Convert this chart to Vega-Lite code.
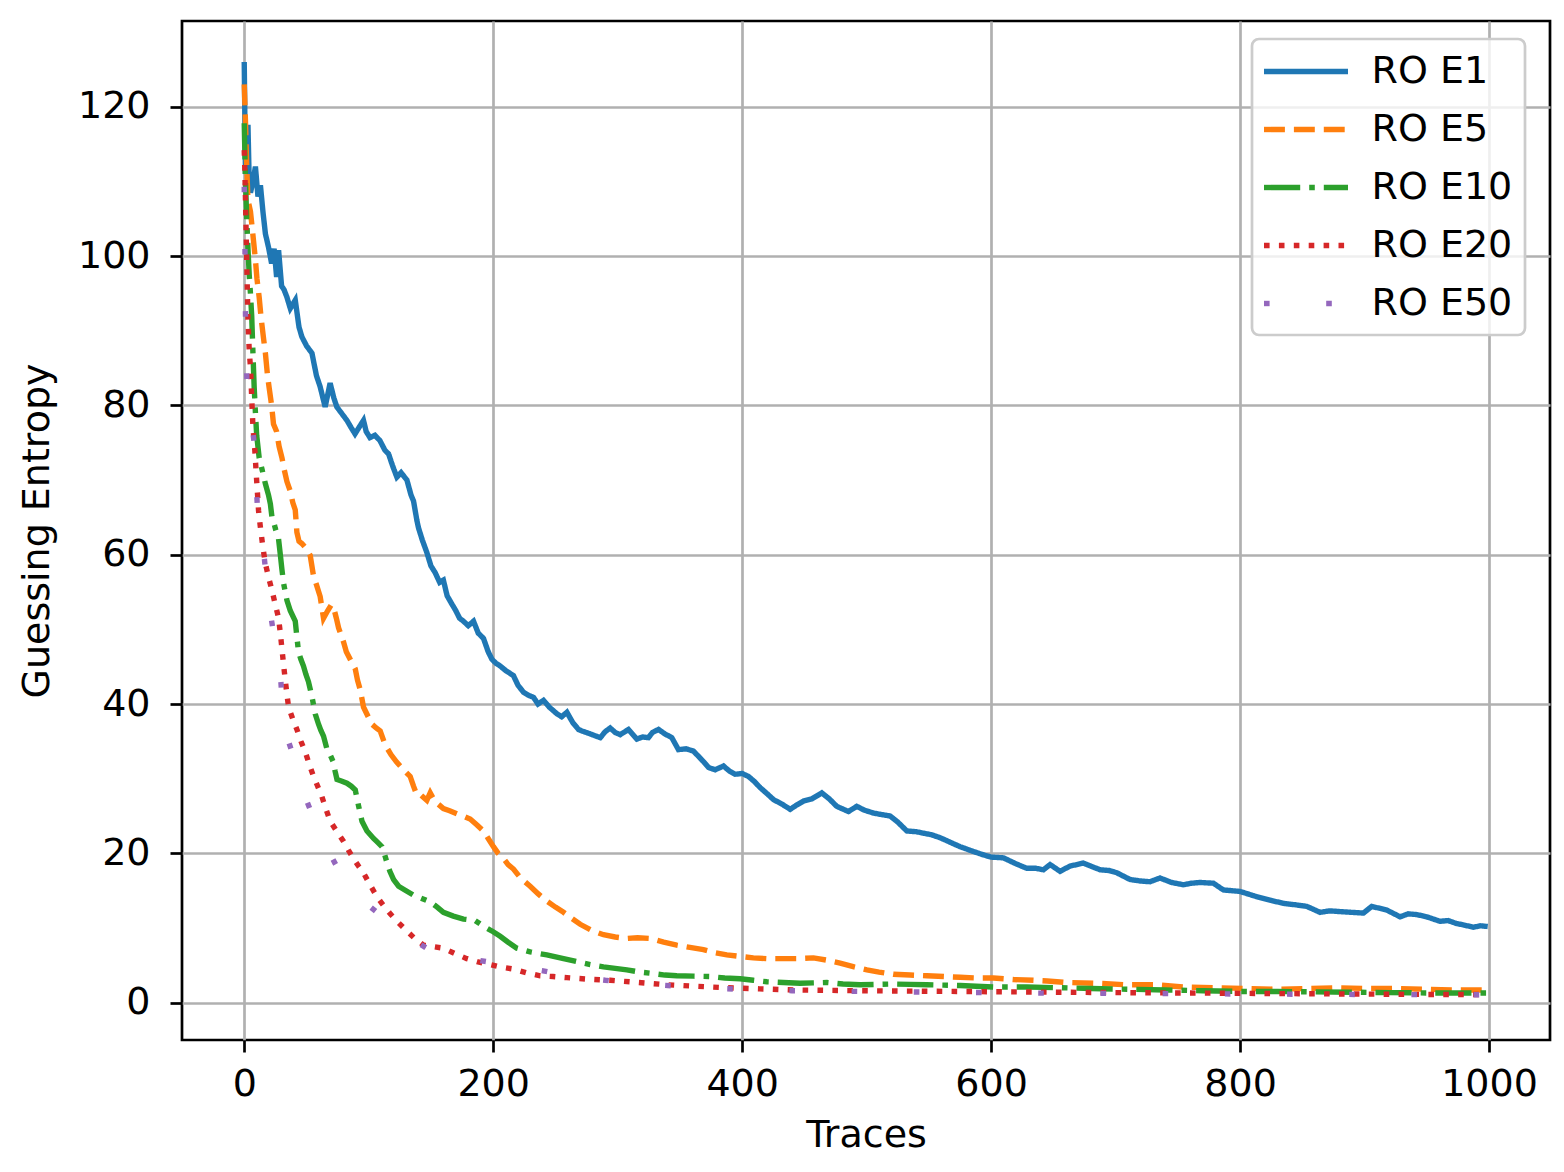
{
  "$schema": "https://vega.github.io/schema/vega-lite/v6.json",
  "width": 1368,
  "height": 1019,
  "autosize": {"type": "none"},
  "padding": {"left": 182, "top": 21, "right": 14, "bottom": 132},
  "background": "white",
  "config": {
    "font": "DejaVu Sans",
    "view": {"stroke": "black", "strokeWidth": 2.7},
    "axis": {
      "domain": false,
      "grid": true,
      "gridColor": "#b0b0b0",
      "gridWidth": 2.7,
      "tickColor": "black",
      "tickWidth": 2.7,
      "tickSize": 12,
      "labelFont": "DejaVu Sans",
      "labelFontSize": 38,
      "labelColor": "black",
      "titleFont": "DejaVu Sans",
      "titleFontSize": 38,
      "titleFontWeight": "normal",
      "titleColor": "black"
    },
    "legend": {
      "orient": "none",
      "legendX": 1070,
      "legendY": 18,
      "padding": 12,
      "fillColor": "rgba(255,255,255,0.8)",
      "strokeColor": "#cccccc",
      "strokeWidth": 2.7,
      "cornerRadius": 7,
      "symbolType": "M-2.4,0H2.4",
      "symbolSize": 1225,
      "symbolStrokeWidth": 5.4,
      "symbolOffset": 21.5,
      "labelOffset": 45,
      "labelFont": "DejaVu Sans",
      "labelFontSize": 38,
      "labelColor": "black",
      "labelLimit": 400,
      "rowPadding": 18
    }
  },
  "data": {
    "values": [
      {"series":"RO E1","trace":0,"ge":126},{"series":"RO E1","trace":1,"ge":111},{"series":"RO E1","trace":2,"ge":114},{"series":"RO E1","trace":3,"ge":117.6},{"series":"RO E1","trace":4,"ge":110},{"series":"RO E1","trace":5,"ge":108.5},{"series":"RO E1","trace":7,"ge":110},{"series":"RO E1","trace":9,"ge":112},{"series":"RO E1","trace":11,"ge":108},{"series":"RO E1","trace":13,"ge":109.5},{"series":"RO E1","trace":15,"ge":106},{"series":"RO E1","trace":17,"ge":103},{"series":"RO E1","trace":19.5,"ge":101.2},{"series":"RO E1","trace":22,"ge":99},{"series":"RO E1","trace":24,"ge":101},{"series":"RO E1","trace":26,"ge":97.2},{"series":"RO E1","trace":27.6,"ge":100.8},{"series":"RO E1","trace":30,"ge":96},{"series":"RO E1","trace":32,"ge":95.5},{"series":"RO E1","trace":34.3,"ge":94.5},{"series":"RO E1","trace":37,"ge":93},{"series":"RO E1","trace":41,"ge":94.1},{"series":"RO E1","trace":44,"ge":90.5},{"series":"RO E1","trace":46.3,"ge":89.2},{"series":"RO E1","trace":50,"ge":88},{"series":"RO E1","trace":54.4,"ge":87},{"series":"RO E1","trace":58,"ge":84},{"series":"RO E1","trace":61,"ge":82.5},{"series":"RO E1","trace":65,"ge":79.8},{"series":"RO E1","trace":69,"ge":83},{"series":"RO E1","trace":72,"ge":81},{"series":"RO E1","trace":74.4,"ge":79.8},{"series":"RO E1","trace":78,"ge":79},{"series":"RO E1","trace":82.5,"ge":78},{"series":"RO E1","trace":86,"ge":77},{"series":"RO E1","trace":89,"ge":76.2},{"series":"RO E1","trace":92,"ge":77},{"series":"RO E1","trace":95.8,"ge":78},{"series":"RO E1","trace":98,"ge":76.5},{"series":"RO E1","trace":101,"ge":75.7},{"series":"RO E1","trace":105,"ge":76},{"series":"RO E1","trace":109,"ge":75.3},{"series":"RO E1","trace":113,"ge":74},{"series":"RO E1","trace":116,"ge":73.5},{"series":"RO E1","trace":119,"ge":72},{"series":"RO E1","trace":122.6,"ge":70.4},{"series":"RO E1","trace":126,"ge":71},{"series":"RO E1","trace":130.7,"ge":70},{"series":"RO E1","trace":134,"ge":68},{"series":"RO E1","trace":136,"ge":67.2},{"series":"RO E1","trace":138.7,"ge":64.6},{"series":"RO E1","trace":140,"ge":63.6},{"series":"RO E1","trace":143,"ge":62},{"series":"RO E1","trace":146.7,"ge":60.3},{"series":"RO E1","trace":150,"ge":58.5},{"series":"RO E1","trace":153.4,"ge":57.6},{"series":"RO E1","trace":157,"ge":56.3},{"series":"RO E1","trace":160,"ge":56.6},{"series":"RO E1","trace":163,"ge":54.5},{"series":"RO E1","trace":166.8,"ge":53.4},{"series":"RO E1","trace":170,"ge":52.5},{"series":"RO E1","trace":173,"ge":51.5},{"series":"RO E1","trace":176.1,"ge":51.1},{"series":"RO E1","trace":180,"ge":50.5},{"series":"RO E1","trace":184.2,"ge":51.1},{"series":"RO E1","trace":188,"ge":49.5},{"series":"RO E1","trace":192.2,"ge":48.8},{"series":"RO E1","trace":196,"ge":47},{"series":"RO E1","trace":199,"ge":46},{"series":"RO E1","trace":202,"ge":45.5},{"series":"RO E1","trace":205.6,"ge":45.1},{"series":"RO E1","trace":210,"ge":44.5},{"series":"RO E1","trace":216.3,"ge":43.8},{"series":"RO E1","trace":220,"ge":42.5},{"series":"RO E1","trace":224.3,"ge":41.6},{"series":"RO E1","trace":228,"ge":41.2},{"series":"RO E1","trace":232.4,"ge":40.9},{"series":"RO E1","trace":236,"ge":40},{"series":"RO E1","trace":240.4,"ge":40.5},{"series":"RO E1","trace":245,"ge":39.6},{"series":"RO E1","trace":251.2,"ge":38.7},{"series":"RO E1","trace":255,"ge":38.3},{"series":"RO E1","trace":259.2,"ge":38.9},{"series":"RO E1","trace":264,"ge":37.5},{"series":"RO E1","trace":268.5,"ge":36.6},{"series":"RO E1","trace":271.2,"ge":36.4},{"series":"RO E1","trace":278,"ge":36},{"series":"RO E1","trace":286,"ge":35.5},{"series":"RO E1","trace":290,"ge":36.3},{"series":"RO E1","trace":294,"ge":36.8},{"series":"RO E1","trace":298,"ge":36.2},{"series":"RO E1","trace":302,"ge":35.9},{"series":"RO E1","trace":308.7,"ge":36.6},{"series":"RO E1","trace":315.4,"ge":35.3},{"series":"RO E1","trace":320,"ge":35.6},{"series":"RO E1","trace":324.7,"ge":35.5},{"series":"RO E1","trace":328,"ge":36.2},{"series":"RO E1","trace":332.8,"ge":36.6},{"series":"RO E1","trace":338,"ge":36},{"series":"RO E1","trace":343.5,"ge":35.5},{"series":"RO E1","trace":348.8,"ge":33.9},{"series":"RO E1","trace":355,"ge":34},{"series":"RO E1","trace":360.9,"ge":33.7},{"series":"RO E1","trace":368.9,"ge":32.3},{"series":"RO E1","trace":373,"ge":31.5},{"series":"RO E1","trace":378.3,"ge":31.2},{"series":"RO E1","trace":385,"ge":31.7},{"series":"RO E1","trace":390,"ge":31},{"series":"RO E1","trace":394.4,"ge":30.6},{"series":"RO E1","trace":400,"ge":30.7},{"series":"RO E1","trace":405.1,"ge":30.3},{"series":"RO E1","trace":410,"ge":29.6},{"series":"RO E1","trace":414.5,"ge":28.8},{"series":"RO E1","trace":420,"ge":28},{"series":"RO E1","trace":425.2,"ge":27.2},{"series":"RO E1","trace":432,"ge":26.6},{"series":"RO E1","trace":438.6,"ge":25.9},{"series":"RO E1","trace":444,"ge":26.5},{"series":"RO E1","trace":449.2,"ge":27},{"series":"RO E1","trace":456,"ge":27.3},{"series":"RO E1","trace":464,"ge":28.1},{"series":"RO E1","trace":470,"ge":27.3},{"series":"RO E1","trace":476,"ge":26.3},{"series":"RO E1","trace":485.4,"ge":25.6},{"series":"RO E1","trace":492.1,"ge":26.3},{"series":"RO E1","trace":498,"ge":25.8},{"series":"RO E1","trace":505.5,"ge":25.4},{"series":"RO E1","trace":512,"ge":25.2},{"series":"RO E1","trace":518.9,"ge":25},{"series":"RO E1","trace":525,"ge":24.2},{"series":"RO E1","trace":532.3,"ge":23},{"series":"RO E1","trace":540,"ge":22.9},{"series":"RO E1","trace":545.6,"ge":22.7},{"series":"RO E1","trace":552,"ge":22.5},{"series":"RO E1","trace":559,"ge":22.1},{"series":"RO E1","trace":567,"ge":21.5},{"series":"RO E1","trace":575,"ge":20.9},{"series":"RO E1","trace":585,"ge":20.3},{"series":"RO E1","trace":593.8,"ge":19.8},{"series":"RO E1","trace":600,"ge":19.5},{"series":"RO E1","trace":609.9,"ge":19.4},{"series":"RO E1","trace":620,"ge":18.6},{"series":"RO E1","trace":628.7,"ge":18},{"series":"RO E1","trace":636,"ge":18},{"series":"RO E1","trace":642,"ge":17.8},{"series":"RO E1","trace":647.4,"ge":18.5},{"series":"RO E1","trace":655.4,"ge":17.6},{"series":"RO E1","trace":663.5,"ge":18.3},{"series":"RO E1","trace":674.1,"ge":18.7},{"series":"RO E1","trace":680,"ge":18.3},{"series":"RO E1","trace":687.6,"ge":17.8},{"series":"RO E1","trace":695,"ge":17.7},{"series":"RO E1","trace":701,"ge":17.4},{"series":"RO E1","trace":711.6,"ge":16.5},{"series":"RO E1","trace":720,"ge":16.3},{"series":"RO E1","trace":727.7,"ge":16.2},{"series":"RO E1","trace":735.7,"ge":16.7},{"series":"RO E1","trace":745,"ge":16.1},{"series":"RO E1","trace":754.5,"ge":15.8},{"series":"RO E1","trace":761,"ge":16},{"series":"RO E1","trace":767.9,"ge":16.1},{"series":"RO E1","trace":778.6,"ge":16},{"series":"RO E1","trace":786.6,"ge":15.1},{"series":"RO E1","trace":800,"ge":14.9},{"series":"RO E1","trace":813.4,"ge":14.2},{"series":"RO E1","trace":825,"ge":13.7},{"series":"RO E1","trace":834.8,"ge":13.3},{"series":"RO E1","trace":845,"ge":13.1},{"series":"RO E1","trace":853.6,"ge":12.9},{"series":"RO E1","trace":864.3,"ge":12.1},{"series":"RO E1","trace":872,"ge":12.3},{"series":"RO E1","trace":880.3,"ge":12.2},{"series":"RO E1","trace":890,"ge":12.1},{"series":"RO E1","trace":899.1,"ge":12},{"series":"RO E1","trace":905.8,"ge":12.9},{"series":"RO E1","trace":917.9,"ge":12.4},{"series":"RO E1","trace":928.6,"ge":11.5},{"series":"RO E1","trace":935,"ge":11.9},{"series":"RO E1","trace":942,"ge":11.8},{"series":"RO E1","trace":950,"ge":11.5},{"series":"RO E1","trace":960.6,"ge":10.9},{"series":"RO E1","trace":967,"ge":11},{"series":"RO E1","trace":974,"ge":10.6},{"series":"RO E1","trace":980,"ge":10.4},{"series":"RO E1","trace":987.4,"ge":10.1},{"series":"RO E1","trace":993,"ge":10.3},{"series":"RO E1","trace":999,"ge":10.2},
      {"series":"RO E5","trace":0,"ge":123},{"series":"RO E5","trace":1,"ge":118},{"series":"RO E5","trace":2,"ge":112},{"series":"RO E5","trace":3,"ge":107.5},{"series":"RO E5","trace":5,"ge":106},{"series":"RO E5","trace":7.5,"ge":102},{"series":"RO E5","trace":9,"ge":99.5},{"series":"RO E5","trace":10.2,"ge":97},{"series":"RO E5","trace":12,"ge":94.5},{"series":"RO E5","trace":13.5,"ge":91.8},{"series":"RO E5","trace":15.5,"ge":89},{"series":"RO E5","trace":17,"ge":87},{"series":"RO E5","trace":18.7,"ge":84},{"series":"RO E5","trace":20,"ge":82.4},{"series":"RO E5","trace":22,"ge":80},{"series":"RO E5","trace":23.5,"ge":77.5},{"series":"RO E5","trace":26,"ge":76.5},{"series":"RO E5","trace":28,"ge":74.5},{"series":"RO E5","trace":30.3,"ge":73},{"series":"RO E5","trace":32,"ge":71.5},{"series":"RO E5","trace":34.3,"ge":69.8},{"series":"RO E5","trace":37,"ge":68.5},{"series":"RO E5","trace":39,"ge":67},{"series":"RO E5","trace":41,"ge":66},{"series":"RO E5","trace":42.3,"ge":63},{"series":"RO E5","trace":44,"ge":61.8},{"series":"RO E5","trace":46.3,"ge":61.5},{"series":"RO E5","trace":50,"ge":60.8},{"series":"RO E5","trace":53,"ge":59.9},{"series":"RO E5","trace":55.7,"ge":57.1},{"series":"RO E5","trace":58,"ge":56},{"series":"RO E5","trace":61,"ge":54.4},{"series":"RO E5","trace":63.7,"ge":51.5},{"series":"RO E5","trace":67,"ge":52.5},{"series":"RO E5","trace":70,"ge":53.3},{"series":"RO E5","trace":71.7,"ge":53},{"series":"RO E5","trace":74,"ge":51.5},{"series":"RO E5","trace":75.8,"ge":50.2},{"series":"RO E5","trace":79.8,"ge":48.3},{"series":"RO E5","trace":82,"ge":47},{"series":"RO E5","trace":85.1,"ge":46},{"series":"RO E5","trace":89.2,"ge":44.7},{"series":"RO E5","trace":91,"ge":43.2},{"series":"RO E5","trace":93.2,"ge":41.9},{"series":"RO E5","trace":95.8,"ge":39.6},{"series":"RO E5","trace":99,"ge":38.5},{"series":"RO E5","trace":102.6,"ge":37.3},{"series":"RO E5","trace":106,"ge":36.8},{"series":"RO E5","trace":109.2,"ge":36.4},{"series":"RO E5","trace":113.3,"ge":34.5},{"series":"RO E5","trace":118,"ge":33.2},{"series":"RO E5","trace":122.6,"ge":32.2},{"series":"RO E5","trace":128,"ge":31.2},{"series":"RO E5","trace":133.3,"ge":30.3},{"series":"RO E5","trace":136,"ge":29},{"series":"RO E5","trace":138.7,"ge":27.8},{"series":"RO E5","trace":142,"ge":27.8},{"series":"RO E5","trace":146.7,"ge":27.1},{"series":"RO E5","trace":149.4,"ge":28.1},{"series":"RO E5","trace":153,"ge":27},{"series":"RO E5","trace":160,"ge":26},{"series":"RO E5","trace":165,"ge":25.7},{"series":"RO E5","trace":170.8,"ge":25.3},{"series":"RO E5","trace":176,"ge":25},{"series":"RO E5","trace":181.5,"ge":24.6},{"series":"RO E5","trace":187,"ge":23.8},{"series":"RO E5","trace":192.2,"ge":23},{"series":"RO E5","trace":196,"ge":22},{"series":"RO E5","trace":200.2,"ge":20.9},{"series":"RO E5","trace":204,"ge":20},{"series":"RO E5","trace":208.3,"ge":19.3},{"series":"RO E5","trace":212,"ge":18.5},{"series":"RO E5","trace":216.3,"ge":17.9},{"series":"RO E5","trace":222,"ge":16.7},{"series":"RO E5","trace":229.7,"ge":15.6},{"series":"RO E5","trace":236,"ge":14.6},{"series":"RO E5","trace":243.1,"ge":13.6},{"series":"RO E5","trace":250,"ge":12.8},{"series":"RO E5","trace":256.5,"ge":12.1},{"series":"RO E5","trace":263,"ge":11.3},{"series":"RO E5","trace":269.9,"ge":10.5},{"series":"RO E5","trace":279,"ge":9.7},{"series":"RO E5","trace":288.6,"ge":9.1},{"series":"RO E5","trace":298,"ge":8.8},{"series":"RO E5","trace":307.4,"ge":8.6},{"series":"RO E5","trace":316,"ge":8.7},{"series":"RO E5","trace":326.1,"ge":8.6},{"series":"RO E5","trace":337,"ge":8.1},{"series":"RO E5","trace":347.5,"ge":7.7},{"series":"RO E5","trace":358,"ge":7.4},{"series":"RO E5","trace":368.9,"ge":7.1},{"series":"RO E5","trace":378,"ge":6.7},{"series":"RO E5","trace":387.7,"ge":6.4},{"series":"RO E5","trace":398,"ge":6.2},{"series":"RO E5","trace":409,"ge":6},{"series":"RO E5","trace":420,"ge":5.9},{"series":"RO E5","trace":433.2,"ge":5.9},{"series":"RO E5","trace":445,"ge":5.9},{"series":"RO E5","trace":457.3,"ge":6},{"series":"RO E5","trace":468,"ge":5.7},{"series":"RO E5","trace":478.7,"ge":5.3},{"series":"RO E5","trace":490,"ge":4.8},{"series":"RO E5","trace":500.2,"ge":4.4},{"series":"RO E5","trace":510,"ge":4.1},{"series":"RO E5","trace":521.5,"ge":3.8},{"series":"RO E5","trace":535,"ge":3.7},{"series":"RO E5","trace":548.4,"ge":3.6},{"series":"RO E5","trace":562,"ge":3.5},{"series":"RO E5","trace":575.1,"ge":3.4},{"series":"RO E5","trace":590,"ge":3.3},{"series":"RO E5","trace":601.9,"ge":3.3},{"series":"RO E5","trace":618,"ge":3.1},{"series":"RO E5","trace":634,"ge":3},{"series":"RO E5","trace":645,"ge":2.9},{"series":"RO E5","trace":660.6,"ge":2.7},{"series":"RO E5","trace":684.7,"ge":2.6},{"series":"RO E5","trace":708.8,"ge":2.4},{"series":"RO E5","trace":732.9,"ge":2.4},{"series":"RO E5","trace":754.3,"ge":2.1},{"series":"RO E5","trace":781.3,"ge":2},{"series":"RO E5","trace":805.4,"ge":1.9},{"series":"RO E5","trace":829.5,"ge":1.8},{"series":"RO E5","trace":853,"ge":1.9},{"series":"RO E5","trace":877.7,"ge":2},{"series":"RO E5","trace":901.8,"ge":1.9},{"series":"RO E5","trace":926,"ge":1.9},{"series":"RO E5","trace":950,"ge":1.8},{"series":"RO E5","trace":974,"ge":1.7},{"series":"RO E5","trace":999,"ge":1.7},
      {"series":"RO E10","trace":0,"ge":117.8},{"series":"RO E10","trace":1,"ge":110},{"series":"RO E10","trace":2,"ge":105},{"series":"RO E10","trace":3,"ge":101},{"series":"RO E10","trace":4,"ge":97.5},{"series":"RO E10","trace":5,"ge":95},{"series":"RO E10","trace":6,"ge":92},{"series":"RO E10","trace":7,"ge":87},{"series":"RO E10","trace":8,"ge":82.4},{"series":"RO E10","trace":9,"ge":79},{"series":"RO E10","trace":10,"ge":76},{"series":"RO E10","trace":12,"ge":73},{"series":"RO E10","trace":14.2,"ge":71.5},{"series":"RO E10","trace":17,"ge":69.5},{"series":"RO E10","trace":19.5,"ge":68},{"series":"RO E10","trace":21,"ge":66.8},{"series":"RO E10","trace":22.3,"ge":65},{"series":"RO E10","trace":23.5,"ge":64.5},{"series":"RO E10","trace":25,"ge":63.5},{"series":"RO E10","trace":27.5,"ge":62.2},{"series":"RO E10","trace":29,"ge":60},{"series":"RO E10","trace":30.3,"ge":58},{"series":"RO E10","trace":31.6,"ge":56.2},{"series":"RO E10","trace":33,"ge":55},{"series":"RO E10","trace":34.3,"ge":53.9},{"series":"RO E10","trace":37,"ge":52.5},{"series":"RO E10","trace":41,"ge":51.1},{"series":"RO E10","trace":42.3,"ge":49},{"series":"RO E10","trace":43.6,"ge":47},{"series":"RO E10","trace":45.5,"ge":46},{"series":"RO E10","trace":47.6,"ge":45.1},{"series":"RO E10","trace":49.5,"ge":44},{"series":"RO E10","trace":51.6,"ge":43},{"series":"RO E10","trace":53,"ge":42},{"series":"RO E10","trace":54.4,"ge":41},{"series":"RO E10","trace":57,"ge":38.7},{"series":"RO E10","trace":59.7,"ge":37.3},{"series":"RO E10","trace":61.5,"ge":36.5},{"series":"RO E10","trace":63.7,"ge":35.7},{"series":"RO E10","trace":66.4,"ge":34},{"series":"RO E10","trace":69,"ge":33.2},{"series":"RO E10","trace":71.7,"ge":32.2},{"series":"RO E10","trace":73,"ge":31},{"series":"RO E10","trace":74.5,"ge":29.9},{"series":"RO E10","trace":78,"ge":29.7},{"series":"RO E10","trace":82.5,"ge":29.4},{"series":"RO E10","trace":86,"ge":29},{"series":"RO E10","trace":89.2,"ge":28.5},{"series":"RO E10","trace":91.8,"ge":26.4},{"series":"RO E10","trace":94.6,"ge":24.3},{"series":"RO E10","trace":98.6,"ge":23},{"series":"RO E10","trace":103.9,"ge":22},{"series":"RO E10","trace":107,"ge":21.5},{"series":"RO E10","trace":110.6,"ge":20.9},{"series":"RO E10","trace":112.5,"ge":20},{"series":"RO E10","trace":114.6,"ge":18.8},{"series":"RO E10","trace":117,"ge":17.6},{"series":"RO E10","trace":120,"ge":16.5},{"series":"RO E10","trace":124,"ge":15.6},{"series":"RO E10","trace":130,"ge":15},{"series":"RO E10","trace":136,"ge":14.4},{"series":"RO E10","trace":142,"ge":14},{"series":"RO E10","trace":149.4,"ge":13.5},{"series":"RO E10","trace":155,"ge":12.8},{"series":"RO E10","trace":160,"ge":12.1},{"series":"RO E10","trace":168,"ge":11.6},{"series":"RO E10","trace":176.1,"ge":11.2},{"series":"RO E10","trace":185.5,"ge":11},{"series":"RO E10","trace":193.6,"ge":10.1},{"series":"RO E10","trace":200,"ge":9.5},{"series":"RO E10","trace":205.6,"ge":8.9},{"series":"RO E10","trace":212,"ge":8.1},{"series":"RO E10","trace":219,"ge":7.3},{"series":"RO E10","trace":229.7,"ge":6.8},{"series":"RO E10","trace":243.1,"ge":6.4},{"series":"RO E10","trace":256.5,"ge":5.9},{"series":"RO E10","trace":267.2,"ge":5.5},{"series":"RO E10","trace":278,"ge":5.1},{"series":"RO E10","trace":288.6,"ge":4.8},{"series":"RO E10","trace":298,"ge":4.6},{"series":"RO E10","trace":307.4,"ge":4.4},{"series":"RO E10","trace":318,"ge":4.1},{"series":"RO E10","trace":328.8,"ge":3.9},{"series":"RO E10","trace":338,"ge":3.7},{"series":"RO E10","trace":347.5,"ge":3.6},{"series":"RO E10","trace":361,"ge":3.55},{"series":"RO E10","trace":374.3,"ge":3.5},{"series":"RO E10","trace":386,"ge":3.3},{"series":"RO E10","trace":398.4,"ge":3.2},{"series":"RO E10","trace":409,"ge":3},{"series":"RO E10","trace":419.8,"ge":2.8},{"series":"RO E10","trace":433,"ge":2.7},{"series":"RO E10","trace":446.6,"ge":2.6},{"series":"RO E10","trace":457,"ge":2.65},{"series":"RO E10","trace":468,"ge":2.7},{"series":"RO E10","trace":481,"ge":2.5},{"series":"RO E10","trace":494.8,"ge":2.4},{"series":"RO E10","trace":508,"ge":2.45},{"series":"RO E10","trace":521.5,"ge":2.5},{"series":"RO E10","trace":535,"ge":2.45},{"series":"RO E10","trace":548.4,"ge":2.4},{"series":"RO E10","trace":562,"ge":2.35},{"series":"RO E10","trace":575.1,"ge":2.3},{"series":"RO E10","trace":588,"ge":2.2},{"series":"RO E10","trace":601.9,"ge":2.1},{"series":"RO E10","trace":615,"ge":2.1},{"series":"RO E10","trace":628.7,"ge":2.1},{"series":"RO E10","trace":642,"ge":2.05},{"series":"RO E10","trace":655.4,"ge":2},{"series":"RO E10","trace":680,"ge":1.9},{"series":"RO E10","trace":710,"ge":1.8},{"series":"RO E10","trace":740,"ge":1.7},{"series":"RO E10","trace":770,"ge":1.6},{"series":"RO E10","trace":800,"ge":1.5},{"series":"RO E10","trace":830,"ge":1.5},{"series":"RO E10","trace":860,"ge":1.45},{"series":"RO E10","trace":890,"ge":1.4},{"series":"RO E10","trace":920,"ge":1.35},{"series":"RO E10","trace":950,"ge":1.3},{"series":"RO E10","trace":975,"ge":1.3},{"series":"RO E10","trace":999,"ge":1.3},
      {"series":"RO E20","trace":0,"ge":114.2},{"series":"RO E20","trace":0.5,"ge":111.5},{"series":"RO E20","trace":1,"ge":107.5},{"series":"RO E20","trace":1.5,"ge":103.5},{"series":"RO E20","trace":2,"ge":99.5},{"series":"RO E20","trace":2.5,"ge":95.4},{"series":"RO E20","trace":3,"ge":91.4},{"series":"RO E20","trace":4,"ge":87.4},{"series":"RO E20","trace":5,"ge":85.1},{"series":"RO E20","trace":6,"ge":81.1},{"series":"RO E20","trace":7,"ge":77.1},{"series":"RO E20","trace":8.5,"ge":74},{"series":"RO E20","trace":10,"ge":69.9},{"series":"RO E20","trace":11.5,"ge":65.9},{"series":"RO E20","trace":12.9,"ge":63.8},{"series":"RO E20","trace":15,"ge":61},{"series":"RO E20","trace":16.9,"ge":58.9},{"series":"RO E20","trace":19.5,"ge":57},{"series":"RO E20","trace":22.2,"ge":55.3},{"series":"RO E20","trace":25,"ge":53.3},{"series":"RO E20","trace":27.5,"ge":51.6},{"series":"RO E20","trace":29,"ge":49.5},{"series":"RO E20","trace":30.3,"ge":47.4},{"series":"RO E20","trace":31.6,"ge":45.3},{"series":"RO E20","trace":32.9,"ge":43.3},{"series":"RO E20","trace":34.3,"ge":41.3},{"series":"RO E20","trace":35.6,"ge":39.6},{"series":"RO E20","trace":39,"ge":38},{"series":"RO E20","trace":42.3,"ge":36.6},{"series":"RO E20","trace":45.6,"ge":35},{"series":"RO E20","trace":49,"ge":33.6},{"series":"RO E20","trace":52.3,"ge":31.9},{"series":"RO E20","trace":55.7,"ge":30.3},{"series":"RO E20","trace":59,"ge":29},{"series":"RO E20","trace":62.4,"ge":27.6},{"series":"RO E20","trace":65.7,"ge":25.9},{"series":"RO E20","trace":69.1,"ge":24.3},{"series":"RO E20","trace":74.5,"ge":22.9},{"series":"RO E20","trace":79.8,"ge":21.6},{"series":"RO E20","trace":83.8,"ge":20.4},{"series":"RO E20","trace":87.8,"ge":19.3},{"series":"RO E20","trace":91.8,"ge":18.3},{"series":"RO E20","trace":95.8,"ge":17.4},{"series":"RO E20","trace":101,"ge":15.8},{"series":"RO E20","trace":106.6,"ge":14.2},{"series":"RO E20","trace":112,"ge":13},{"series":"RO E20","trace":117.3,"ge":11.9},{"series":"RO E20","trace":124,"ge":10.7},{"series":"RO E20","trace":130.7,"ge":9.6},{"series":"RO E20","trace":137,"ge":8.6},{"series":"RO E20","trace":144,"ge":7.7},{"series":"RO E20","trace":152,"ge":7.5},{"series":"RO E20","trace":160,"ge":7.3},{"series":"RO E20","trace":169,"ge":6.6},{"series":"RO E20","trace":178.8,"ge":5.9},{"series":"RO E20","trace":187,"ge":5.5},{"series":"RO E20","trace":194.9,"ge":5.2},{"series":"RO E20","trace":205,"ge":4.8},{"series":"RO E20","trace":216.3,"ge":4.5},{"series":"RO E20","trace":227,"ge":4},{"series":"RO E20","trace":237.8,"ge":3.6},{"series":"RO E20","trace":248,"ge":3.5},{"series":"RO E20","trace":259.2,"ge":3.35},{"series":"RO E20","trace":276,"ge":3.15},{"series":"RO E20","trace":294,"ge":3},{"series":"RO E20","trace":317,"ge":2.7},{"series":"RO E20","trace":339.5,"ge":2.4},{"series":"RO E20","trace":363,"ge":2.2},{"series":"RO E20","trace":387.7,"ge":2},{"series":"RO E20","trace":414,"ge":1.85},{"series":"RO E20","trace":441.2,"ge":1.7},{"series":"RO E20","trace":468,"ge":1.65},{"series":"RO E20","trace":494.8,"ge":1.6},{"series":"RO E20","trace":535,"ge":1.55},{"series":"RO E20","trace":575.1,"ge":1.5},{"series":"RO E20","trace":615,"ge":1.45},{"series":"RO E20","trace":655.4,"ge":1.4},{"series":"RO E20","trace":700,"ge":1.35},{"series":"RO E20","trace":750,"ge":1.3},{"series":"RO E20","trace":800,"ge":1.25},{"series":"RO E20","trace":850,"ge":1.2},{"series":"RO E20","trace":900,"ge":1.15},{"series":"RO E20","trace":950,"ge":1.1},{"series":"RO E20","trace":999,"ge":1.1},
      {"series":"RO E50","trace":0,"ge":109.3},{"series":"RO E50","trace":0.3,"ge":105},{"series":"RO E50","trace":0.6,"ge":100.8},{"series":"RO E50","trace":0.8,"ge":96},{"series":"RO E50","trace":1,"ge":92.1},{"series":"RO E50","trace":1.5,"ge":88},{"series":"RO E50","trace":2.1,"ge":83.6},{"series":"RO E50","trace":3.5,"ge":81},{"series":"RO E50","trace":4.8,"ge":78.9},{"series":"RO E50","trace":6.5,"ge":77},{"series":"RO E50","trace":8,"ge":74.9},{"series":"RO E50","trace":9.5,"ge":70},{"series":"RO E50","trace":10.7,"ge":65.9},{"series":"RO E50","trace":13,"ge":63},{"series":"RO E50","trace":15.5,"ge":60.6},{"series":"RO E50","trace":18,"ge":56.5},{"series":"RO E50","trace":20.9,"ge":52.3},{"series":"RO E50","trace":24,"ge":49},{"series":"RO E50","trace":28.4,"ge":45.8},{"series":"RO E50","trace":30,"ge":41.5},{"series":"RO E50","trace":31.6,"ge":37.3},{"series":"RO E50","trace":35,"ge":35.3},{"series":"RO E50","trace":39.1,"ge":33.2},{"series":"RO E50","trace":44,"ge":30.3},{"series":"RO E50","trace":49.8,"ge":27.2},{"series":"RO E50","trace":58,"ge":23.8},{"series":"RO E50","trace":67.2,"ge":20.5},{"series":"RO E50","trace":76,"ge":17.7},{"series":"RO E50","trace":86.5,"ge":15},{"series":"RO E50","trace":100,"ge":13},{"series":"RO E50","trace":117.3,"ge":10.7},{"series":"RO E50","trace":134,"ge":8.6},{"series":"RO E50","trace":151.3,"ge":6.8},{"series":"RO E50","trace":172,"ge":6.1},{"series":"RO E50","trace":194.5,"ge":5.5},{"series":"RO E50","trace":216,"ge":4.9},{"series":"RO E50","trace":239.1,"ge":4.3},{"series":"RO E50","trace":260,"ge":3.6},{"series":"RO E50","trace":290,"ge":3},{"series":"RO E50","trace":330,"ge":2.4},{"series":"RO E50","trace":380,"ge":1.9},{"series":"RO E50","trace":440,"ge":1.6},{"series":"RO E50","trace":500,"ge":1.5},{"series":"RO E50","trace":560,"ge":1.4},{"series":"RO E50","trace":620,"ge":1.3},{"series":"RO E50","trace":680,"ge":1.25},{"series":"RO E50","trace":750,"ge":1.2},{"series":"RO E50","trace":820,"ge":1.15},{"series":"RO E50","trace":900,"ge":1.1},{"series":"RO E50","trace":999,"ge":1.05}
    ]
  },
  "mark": {"type": "line", "strokeWidth": 5.4, "strokeCap": "butt", "clip": true},
  "encoding": {
    "x": {
      "field": "trace",
      "type": "quantitative",
      "scale": {"domain": [-50, 1049], "nice": false, "zero": false},
      "axis": {"title": "Traces", "values": [0, 200, 400, 600, 800, 1000], "format": "d", "labelFlush": false, "labelPadding": 13, "titlePadding": 13}
    },
    "y": {
      "field": "ge",
      "type": "quantitative",
      "scale": {"domain": [-5, 131.5], "nice": false, "zero": false},
      "axis": {"title": "Guessing Entropy", "values": [0, 20, 40, 60, 80, 100, 120], "format": "d", "labelPadding": 20, "titlePadding": 21}
    },
    "color": {
      "field": "series",
      "type": "nominal",
      "scale": {"domain": ["RO E1", "RO E5", "RO E10", "RO E20", "RO E50"], "range": ["#1f77b4", "#ff7f0e", "#2ca02c", "#d62728", "#9467bd"]},
      "legend": {"title": null}
    },
    "strokeDash": {
      "field": "series",
      "type": "nominal",
      "scale": {"domain": ["RO E1", "RO E5", "RO E10", "RO E20", "RO E50"], "range": [[1, 0], [20.9, 9], [36.2, 9, 5.6, 9], [5.6, 9.3], [5.6, 56.6]]},
      "legend": {"title": null}
    }
  }
}
